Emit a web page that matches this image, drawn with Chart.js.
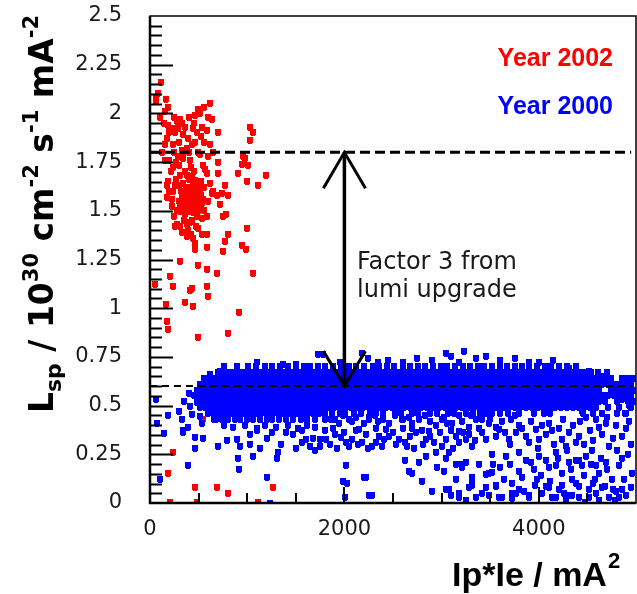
<!DOCTYPE html>
<html>
<head>
<meta charset="utf-8">
<script src="https://cdn.jsdelivr.net/npm/chart.js@4.4.1/dist/chart.umd.min.js"></script>
<style>
  html, body { margin: 0; padding: 0; background: #fff; }
  #wrap { width: 637px; height: 594px; }
</style>
</head>
<body>
<div id="wrap"><canvas id="lumi" width="637" height="594"></canvas></div>
<script>
// ---- axis ticks ----
const xTicks = [0, 2000, 4000];
const yTicks = [0, 0.25, 0.5, 0.75, 1, 1.25, 1.5, 1.75, 2, 2.25, 2.5];

// ---- reference levels (2000 level and 3x upgrade) + arrow position ----
const refLevels = [1.8, 0.6];
const arrowX = 2000;

// ---- Year 2002 runs: [Ip*Ie, Lsp] ----
const year2002 = [
  [110,2.16],[62,2.08],[62,2.06],[164,2.07],[615,2.05],[495,2.02],[460,1.99],[513,2.0],[154,2.01],[185,2.03],
  [636,1.97],[308,1.97],[277,1.96],[328,1.95],[185,1.94],[226,1.92],[585,1.91],[698,1.9],[1026,1.93],[1057,1.9],
  [441,1.92],[256,1.9],[339,1.89],[390,1.87],[174,1.87],[236,1.84],[154,1.84],[1026,1.86],[431,1.84],[380,1.82],
  [328,1.81],[461,1.85],[492,1.8],[513,1.79],[287,1.78],[339,1.77],[410,1.76],[954,1.78],[975,1.77],[944,1.74],
  [1005,1.73],[236,1.72],[544,1.73],[564,1.71],[585,1.69],[698,1.69],[903,1.69],[1190,1.68],[308,1.68],[380,1.68],
  [431,1.675],[461,1.655],[185,1.65],[174,1.63],[256,1.63],[339,1.64],[390,1.62],[482,1.64],[492,1.6],[513,1.61],
  [615,1.64],[769,1.63],[995,1.65],[1108,1.63],[339,1.58],[380,1.56],[431,1.55],[461,1.57],[492,1.55],[441,1.53],
  [390,1.52],[482,1.51],[533,1.54],[544,1.56],[174,1.57],[226,1.56],[636,1.59],[687,1.58],[738,1.59],[800,1.58],
  [718,1.53],[779,1.48],[749,1.47],[277,1.5],[308,1.495],[359,1.48],[410,1.495],[482,1.47],[533,1.46],[585,1.47],
  [256,1.42],[308,1.42],[380,1.43],[410,1.44],[492,1.41],[533,1.38],[585,1.38],[380,1.37],[441,1.36],[800,1.38],
  [995,1.41],[461,1.3],[585,1.31],[769,1.34],[749,1.29],[944,1.32],[985,1.3],[308,1.24],[492,1.22],[585,1.2],
  [687,1.18],[1057,1.18],[205,1.165],[51,1.12],[236,1.11],[431,1.1],[410,1.09],[585,1.11],[595,1.06],[359,1.03],
  [441,1.01],[164,1.02],[913,0.98],[174,0.93],[185,0.89],[492,0.85],[800,0.87],[236,0.26],[185,0.15],[544,0.43],
  [461,0.08],[687,0.08],[800,0.05],[1262,0.08],[205,0.005],[482,0.005],[1108,0.005],
  [350,1.6],[400,1.59],[420,1.62],[450,1.6],[470,1.6],[360,1.55],[410,1.545],[460,1.52],[510,1.53],[520,1.58],
  [350,1.52],[300,1.55],[320,1.6],[440,1.65],[400,1.66],[360,1.7],[420,1.72],[450,1.7],[300,1.73],[270,1.75],
  [350,1.8],[400,1.8],[300,1.85],[250,1.8],[200,1.76],[220,1.7],[270,1.66],[300,1.63],[240,1.6],[200,1.6],
  [230,1.52],[430,1.45],[470,1.42],[350,1.45],[390,1.4],[500,1.5],[560,1.5],[600,1.55],[650,1.6],[520,1.65],
  [560,1.62],[250,1.47],[280,1.43],[330,1.39],[420,1.38],[460,1.33],[250,1.98],[290,1.92],[360,1.93],[200,1.9],
  [400,1.98],[450,1.95],[520,1.88],[560,1.85],[620,1.84],[650,1.8],[700,1.75],[600,1.78],[150,1.76],[120,1.8],
  [140,1.95],[100,1.98],[80,2.1],[480,1.9],[540,1.93],[600,1.98],[560,2.03],
  [330,1.57],[370,1.61],[420,1.58],[480,1.57],[400,1.52],[440,1.49],[370,1.5],[310,1.51],[450,1.63],[500,1.62]
];

// ---- Year 2000 runs: the dense band, one x-list per Lsp row ----
const bandRowY = [0.70, 0.67, 0.64, 0.61, 0.58, 0.55, 0.52, 0.49, 0.46, 0.43];
const bandRowX = [
  [760,900,1010,1090,1180,1250,1340,1420,1500,1580,1650,1730,1800,1880,1960,2050,2120,2200,2290,2360,2440,2510,2600,2680,2760,2830,2910,2990,3060,3140,3220,3290,3370,3440,3520,3600,3670,3750,3830,3900,3980,4060,4130,4210,4290,4380],
  [700,760,820,880,940,1000,1060,1120,1180,1240,1300,1360,1420,1480,1540,1600,1660,1720,1780,1840,1900,1960,2020,2080,2140,2200,2260,2320,2380,2440,2500,2560,2620,2680,2740,2800,2860,2920,2980,3040,3100,3160,3220,3280,3340,3400,3460,3520,3580,3640,3700,3760,3820,3880,3940,4000,4060,4120,4180,4240,4300,4360,4420,4480,4540,4610,4700],
  [600,660,720,780,840,900,960,1020,1080,1140,1200,1260,1320,1380,1440,1500,1560,1620,1680,1740,1800,1860,1920,1980,2040,2100,2160,2220,2280,2340,2400,2460,2520,2580,2640,2700,2760,2820,2880,2940,3000,3060,3120,3180,3240,3300,3360,3420,3480,3540,3600,3660,3720,3780,3840,3900,3960,4020,4080,4140,4200,4260,4320,4380,4440,4500,4560,4620,4680,4740,4860,4920,4980],
  [510,570,630,690,750,810,870,930,990,1050,1110,1170,1230,1290,1350,1410,1470,1530,1590,1650,1710,1770,1830,1890,1950,2010,2070,2130,2190,2250,2310,2370,2430,2490,2550,2610,2670,2730,2790,2850,2910,2970,3030,3090,3150,3210,3270,3330,3390,3450,3510,3570,3630,3690,3750,3810,3870,3930,3990,4050,4110,4170,4230,4290,4350,4410,4470,4530,4590,4650,4710,4770,4830,4890,4950],
  [480,540,600,660,720,780,840,900,960,1020,1080,1140,1200,1260,1320,1380,1440,1500,1560,1620,1680,1740,1800,1860,1920,1980,2040,2100,2160,2220,2280,2340,2400,2460,2520,2580,2640,2700,2760,2820,2880,2940,3000,3060,3120,3180,3240,3300,3360,3420,3480,3540,3600,3660,3720,3780,3840,3900,3960,4020,4080,4140,4200,4260,4320,4380,4440,4500,4560,4620,4740,4800,4860,4920,4980],
  [450,510,570,630,690,750,810,870,930,990,1050,1110,1170,1230,1290,1350,1410,1470,1530,1590,1650,1710,1770,1830,1890,1950,2010,2070,2130,2190,2250,2310,2370,2430,2490,2550,2610,2670,2730,2790,2850,2910,2970,3030,3090,3150,3210,3270,3330,3390,3450,3510,3570,3630,3690,3750,3810,3870,3930,3990,4050,4110,4170,4230,4290,4350,4410,4470,4530,4590,4650,4710,4770,4830,4890,4950],
  [480,540,600,660,720,780,840,900,960,1020,1080,1140,1200,1260,1320,1380,1440,1500,1560,1620,1680,1740,1800,1860,1920,1980,2040,2100,2160,2220,2280,2340,2400,2460,2520,2580,2640,2700,2760,2820,2880,2940,3000,3060,3120,3180,3240,3300,3360,3420,3480,3540,3600,3660,3720,3780,3840,3900,3960,4020,4080,4140,4200,4260,4320,4380,4440,4500,4560,4620,4680,4800,4920,4980],
  [510,570,630,690,750,810,870,930,990,1050,1110,1170,1230,1290,1350,1410,1470,1530,1590,1650,1710,1770,1830,1890,1950,2010,2070,2130,2190,2250,2310,2370,2430,2490,2550,2610,2670,2730,2790,2850,2910,2970,3030,3090,3150,3210,3270,3330,3390,3450,3510,3570,3630,3690,3750,3810,3870,3930,3990,4050,4110,4170,4230,4290,4350,4410,4470,4530,4590,4710,4830,4950],
  [600,660,720,780,840,900,960,1020,1080,1140,1200,1260,1320,1380,1440,1500,1560,1620,1680,1740,1800,1870,1950,2010,2100,2170,2260,2330,2400,2520,2580,2700,2760,2880,2950,3070,3130,3250,3320,3400,3460,3520,3600,3680,3800,3950,4120,4450,4560,4650,4800,4900],
  [680,740,800,870,930,1000,1060,1130,1200,1260,1330,1400,1470,1550,1620,1700,1800,1900,2050,2250,2400,2600,2770,3000,3350,3420,3500]
];

// ---- Year 2000 runs outside the band: [Ip*Ie, Lsp] ----
const year2000 = [
  [62,0.53],[72,0.41],[144,0.355],[185,0.45],[103,0.12],[325,0.43],[342,0.36],[390,0.39],[339,0.37],[462,0.335],
  [545,0.33],[462,0.28],[698,0.29],[790,0.32],[892,0.325],[923,0.29],[1026,0.3],[1129,0.28],[903,0.23],[1057,0.24],
  [1313,0.26],[1303,0.23],[390,0.19],[913,0.17],[1200,0.13],[1231,0.0],[1026,0.35],[1098,0.37],[1610,0.325],[1641,0.29],
  [1560,0.31],[1467,0.35],[1724,0.76],[1365,0.71],[718,0.675],
  [482,0.58],[513,0.55],[482,0.515],[564,0.495],[410,0.495],[431,0.455],[513,0.445],[595,0.47],[400,0.56],[350,0.52],[300,0.47],
  [636,0.53],[646,0.58],[585,0.6],[560,0.64],[620,0.66],[660,0.43],[540,0.41],
  [1775,0.76],[2185,0.77],[2240,0.74],[2600,0.72],[2900,0.73],[3047,0.77],[3098,0.75],[3232,0.78],[3350,0.74],[3457,0.75],
  [3600,0.73],[3750,0.74],[3900,0.72],[4001,0.72],[4150,0.73],[4309,0.69],[4514,0.675],[4650,0.65],[1100,0.72],[1500,0.71],
  [1950,0.72],[2450,0.73],[2750,0.74],[3180,0.72],[2350,0.72],
  [4857,0.53],[4925,0.5],[4890,0.46],[4960,0.15],
  [760,0.4],[850,0.39],[980,0.4],[1100,0.385],[1180,0.4],[1300,0.39],[1420,0.4],[1520,0.385],[1620,0.4],[1700,0.39],
  [1815,0.325],[1970,0.335],[2020,0.31],[2083,0.325],[2185,0.31],[2288,0.29],[2360,0.34],[2411,0.325],[2462,0.34],[2565,0.325],
  [2647,0.29],[2739,0.36],[2842,0.325],[2924,0.31],[3047,0.325],[3150,0.34],[3180,0.31],[3252,0.325],[3314,0.29],[1949,0.41],
  [2083,0.42],[2257,0.44],[2462,0.41],[2596,0.43],[2770,0.43],[2945,0.4],[3109,0.41],[3283,0.39],[3355,0.43],[1878,0.385],
  [2155,0.375],[2431,0.375],[2698,0.385],[2873,0.365],[3180,0.365],[1744,0.325],[1744,0.29],
  [2020,0.19],[1990,0.11],[2030,0.1],[2010,0.03],[2226,0.13],[2257,0.04],[2205,0.13],[2280,0.04],
  [2945,0.26],[2840,0.24],[2770,0.21],[2665,0.16],[3150,0.2],[3047,0.23],[3027,0.16],[3211,0.18],[3252,0.21],[2800,0.11],
  [3047,0.07],[3098,0.04],[3180,0.03],[3252,0.015],[3314,0.13],[3314,0.11],[3355,0.03],[3078,0.07],[3180,0.05],[3314,0.09],
  [3560,0.09],[2700,0.15],[3211,0.2],[3078,0.26],[3488,0.15],[3457,0.08],
  [3417,0.47],[3488,0.41],[3591,0.375],[3560,0.34],[3457,0.325],[3417,0.36],[3714,0.43],[3796,0.4],[3765,0.36],[3694,0.325],
  [3868,0.34],[3971,0.375],[4001,0.325],[4073,0.35],[4104,0.41],[4053,0.46],[4207,0.385],[4237,0.325],[4309,0.36],[4381,0.31],
  [4412,0.34],[4278,0.29],[4442,0.47],[4484,0.44],[4586,0.43],[4617,0.39],[4689,0.41],[4791,0.4],[4853,0.34],[4720,0.29],
  [4545,0.27],[4484,0.24],[4853,0.23],[4689,0.21],[4586,0.19],[4412,0.22],[3457,0.145],[3519,0.155],
  [3557,0.084],[3727,0.1],[3762,0.05],[3831,0.13],[3951,0.17],[3985,0.12],[4070,0.22],[4173,0.19],[4241,0.15],[4309,0.21],
  [4378,0.22],[4446,0.19],[4344,0.12],[4412,0.085],[4207,0.07],[4070,0.085],[3899,0.03],[3727,0.025],[3591,0.03],[4138,0.03],
  [4275,0.015],[4412,0.03],[4514,0.07],[4583,0.12],[4617,0.15],[4686,0.085],[4754,0.12],[4822,0.03],[4857,0.07],[4788,0.015],
  [4617,0.015],[4480,0.005],[4344,0.04],[3865,0.22],[3796,0.26],[3660,0.24],[3522,0.25],[4173,0.26],[4001,0.24],
  [3488,0.04],[3622,0.03],[3724,0.05],[3796,0.07],[3899,0.04],[4032,0.05],[4104,0.08],[4176,0.03],[4237,0.09],[4309,0.04],
  [4514,0.03],[4586,0.05],[4648,0.08],[4720,0.03],[4792,0.06],[4894,0.04],
  [1800,0.37],[1850,0.3],[1900,0.35],[1920,0.28],[2000,0.36],[2050,0.29],[2120,0.37],[2140,0.3],[2220,0.35],[2240,0.28],
  [2320,0.31],[2330,0.38],[2390,0.29],[2500,0.36],[2530,0.3],[2600,0.38],[2620,0.31],[2680,0.34],[2720,0.28],[2800,0.37],
  [2810,0.3],[2880,0.34],[2980,0.36],[3000,0.29],[3100,0.37],[3120,0.28],[3220,0.36],[3280,0.35],[3340,0.32],[3380,0.38],
  [1800,0.45],[1860,0.43],[1990,0.45],[2120,0.44],[2200,0.41],[2310,0.45],[2350,0.42],[2520,0.45],[2660,0.44],[2700,0.41],
  [2830,0.45],[2880,0.42],[3020,0.44],[3060,0.41],[3180,0.45],[3210,0.42],[3300,0.45],
  [3500,0.44],[3560,0.39],[3620,0.42],[3650,0.36],[3700,0.3],[3760,0.45],[3830,0.38],[3900,0.31],[3920,0.42],[3990,0.28],
  [4030,0.4],[4140,0.37],[4160,0.3],[4250,0.43],[4290,0.27],[4350,0.4],[4420,0.42],[4460,0.3],[4530,0.37],[4560,0.32],
  [4650,0.35],[4700,0.44],[4760,0.33],[4800,0.27],[4900,0.38],[4950,0.3],[4930,0.42],
  [3600,0.18],[3640,0.12],[3700,0.2],[3800,0.16],[3850,0.06],[3920,0.21],[3960,0.09],[4020,0.14],[4100,0.18],[4120,0.11],
  [4200,0.23],[4260,0.05],[4330,0.17],[4380,0.1],[4460,0.14],[4540,0.2],[4560,0.1],[4640,0.23],[4700,0.17],[4760,0.07],
  [4830,0.19],[4880,0.12],[4920,0.25],[4950,0.08],[3380,0.2],[3420,0.05],[3530,0.2],[3280,0.08],[3150,0.12],[2950,0.18],
  [2900,0.06],[2620,0.22],
  [1200,0.33],[1260,0.36],[1350,0.3],[1400,0.36],[1500,0.28],[1560,0.37],[1680,0.33],[1700,0.27]
];

// build the point tables for the scatter datasets
const pts2002 = year2002.map(p => ({ x: p[0], y: p[1] }));
const pts2000 = [];
bandRowY.forEach((yv, i) => bandRowX[i].forEach(xv => pts2000.push({ x: xv, y: yv })));
year2000.forEach(p => pts2000.push({ x: p[0], y: p[1] }));

// small pixel marker (square with a short point underneath), drawn unsmoothed so the band stays solid
function makeMarker(color) {
  const c = document.createElement('canvas');
  c.width = 6; c.height = 7;
  const g = c.getContext('2d');
  g.fillStyle = color;
  g.fillRect(0, 0, 6, 6);
  g.fillRect(1, 6, 4, 1);
  return c;
}

const FONT = "'DejaVu Sans', sans-serif";
const FONT_B = "'Liberation Sans', Arial, sans-serif";

// text drawn along a baseline with sub/superscripts
function richText(ctx, parts, family) {
  let pos = 0;
  parts.forEach(([txt, size, dy]) => {
    ctx.font = 'bold ' + size + 'px ' + family;
    ctx.fillText(txt, pos, dy);
    pos += ctx.measureText(txt).width;
  });
}

const decorations = {
  id: 'decorations',
  beforeDatasetsDraw(chart) {
    chart.ctx.imageSmoothingEnabled = false;
  },
  afterDatasetsDraw(chart) {
    const { ctx, chartArea: a, scales: { x, y } } = chart;
    ctx.save();
    ctx.imageSmoothingEnabled = true;
    ctx.strokeStyle = '#000';
    ctx.lineCap = 'butt';

    // dashed reference lines
    ctx.lineWidth = 3;
    ctx.setLineDash([10, 5]);
    ctx.beginPath();
    ctx.moveTo(a.left, y.getPixelForValue(refLevels[0]));
    ctx.lineTo(x.getPixelForValue(4950), y.getPixelForValue(refLevels[0]));
    ctx.stroke();
    ctx.lineWidth = 2;
    ctx.setLineDash([7, 5]);
    ctx.beginPath();
    ctx.moveTo(a.left, y.getPixelForValue(refLevels[1]));
    ctx.lineTo(x.getPixelForValue(4950), y.getPixelForValue(refLevels[1]));
    ctx.stroke();
    ctx.setLineDash([]);

    // double arrow between the two levels
    const ax = x.getPixelForValue(arrowX);
    const yTop = y.getPixelForValue(refLevels[0]);
    const yBot = y.getPixelForValue(refLevels[1]);
    ctx.lineWidth = 3.5;
    ctx.beginPath();
    ctx.moveTo(ax, yTop); ctx.lineTo(ax, yBot);
    ctx.stroke();
    ctx.lineWidth = 3;
    ctx.beginPath();
    ctx.moveTo(ax - 21, yTop + 36); ctx.lineTo(ax, yTop); ctx.lineTo(ax + 21, yTop + 36);
    ctx.moveTo(ax - 21, yBot - 35); ctx.lineTo(ax, yBot); ctx.lineTo(ax + 21, yBot - 35);
    ctx.stroke();

    // frame
    ctx.lineWidth = 1.5;
    ctx.strokeRect(a.left, a.top, a.right - a.left, a.bottom - a.top);
    ctx.lineWidth = 2.5;
    ctx.beginPath();
    ctx.moveTo(a.left, a.top); ctx.lineTo(a.left, a.bottom); ctx.lineTo(a.right, a.bottom);
    ctx.stroke();

    // tick marks drawn inside the frame
    ctx.lineWidth = 2;
    ctx.beginPath();
    for (let i = 1; i < 50; i++) {
      const py = Math.round(y.getPixelForValue(i * 0.05)) + 0.5;
      const len = i % 5 === 0 ? 23 : 12;
      ctx.moveTo(a.left, py); ctx.lineTo(a.left + len, py);
    }
    for (let i = 1; i < 10; i++) {
      const px = Math.round(x.getPixelForValue(i * 500));
      const len = i % 4 === 0 ? 16 : 10;
      ctx.moveTo(px, a.bottom); ctx.lineTo(px, a.bottom - len);
    }
    ctx.stroke();

    // annotation
    ctx.fillStyle = '#1a1a1a';
    ctx.font = '24px ' + FONT;
    ctx.textBaseline = 'alphabetic';
    ctx.fillText('Factor 3 from', 357, 269);
    ctx.fillText('lumi upgrade', 357, 297);

    // legend
    ctx.font = 'bold 25px ' + FONT_B;
    ctx.textAlign = 'right';
    ctx.fillStyle = '#ff0000';
    ctx.fillText('Year 2002', 613, 66);
    ctx.fillStyle = '#0000ff';
    ctx.fillText('Year 2000', 613, 114);
    ctx.textAlign = 'left';

    // x axis title
    ctx.fillStyle = '#000';
    ctx.font = 'bold 34px ' + FONT_B;
    ctx.fillText('Ip*Ie / mA', 452, 586);
    const w = ctx.measureText('Ip*Ie / mA').width;
    ctx.font = 'bold 22px ' + FONT_B;
    ctx.fillText('2', 452 + w + 1, 568);

    // y axis title, rotated
    ctx.translate(53, 413);
    ctx.rotate(-Math.PI / 2);
    richText(ctx, [
      ['L', 33, 0], ['sp', 22, 8], [' / 10', 33, 0], ['30', 21, -15],
      [' cm', 33, 0], ['-2', 21, -15], [' s', 33, 0], ['-1', 21, -15],
      [' mA', 33, 0], ['-2', 21, -15]
    ], FONT);
    ctx.restore();
  }
};

const tickFont = { family: FONT, size: 21 };

new Chart(document.getElementById('lumi'), {
  type: 'scatter',
  data: {
    datasets: [
      { label: 'Year 2000', data: pts2000, backgroundColor: '#0000ff', borderColor: '#0000ff',
        pointStyle: makeMarker('#0000ff'), pointRadius: 3.5 },
      { label: 'Year 2002', data: pts2002, backgroundColor: '#ff0000', borderColor: '#ff0000',
        pointStyle: makeMarker('#ff0000'), pointRadius: 3.5 }
    ]
  },
  options: {
    responsive: false,
    animation: false,
    devicePixelRatio: 1,
    layout: { autoPadding: false, padding: { top: 16, right: 1, left: 0, bottom: 0 } },
    plugins: { legend: { display: false }, tooltip: { enabled: false } },
    scales: {
      x: {
        type: 'linear', min: 0, max: 5000,
        // tick marks are drawn by the plugin; tickLength only spaces the labels
        grid: { display: false, drawTicks: true, tickLength: 14 }, border: { display: false },
        afterBuildTicks: s => { s.ticks = xTicks.map(v => ({ value: v })); },
        afterFit: s => { s.height = 91; },
        ticks: { padding: 0, color: '#1a1a1a', font: tickFont, maxRotation: 0, callback: v => String(v) }
      },
      y: {
        type: 'linear', min: 0, max: 2.5,
        grid: { display: false, drawTicks: true, tickLength: 28 }, border: { display: false },
        afterBuildTicks: s => { s.ticks = yTicks.map(v => ({ value: v })); },
        afterFit: s => { s.width = 150; },
        ticks: { padding: 0, color: '#1a1a1a', font: tickFont, callback: v => String(+v.toFixed(2)) }
      }
    }
  },
  plugins: [decorations]
});
</script>
</body>
</html>
